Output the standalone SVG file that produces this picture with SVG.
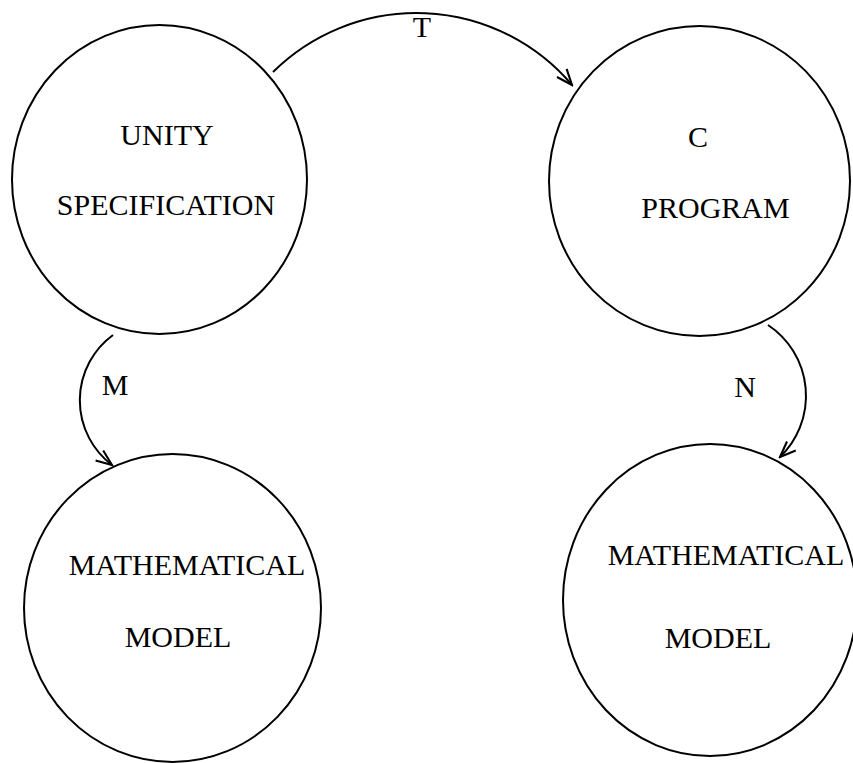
<svg xmlns="http://www.w3.org/2000/svg" width="853" height="763" viewBox="0 0 853 763">
<style>
.node{fill:none;stroke:#000;stroke-width:2}
.lbl{font-family:"Liberation Serif","Times New Roman",serif;font-size:30px;fill:#000;text-anchor:middle}
.edge{fill:none;stroke:#000;stroke-width:2;marker-end:url(#arr)}
</style>
<defs>
<marker id="arr" markerUnits="userSpaceOnUse" markerWidth="20" markerHeight="20" viewBox="-17 -9 19 18" refX="0" refY="0" orient="auto">
<path d="M-15,-6 L0,0 L-15,6" fill="none" stroke="#000" stroke-width="2"/>
</marker>
</defs>
<rect width="853" height="763" fill="#fff"/>
<g id="unity">
<ellipse class="node" cx="159.5" cy="179.5" rx="147.5" ry="154.5"/>
<text class="lbl" x="167" y="145">UNITY</text>
<text class="lbl" x="166" y="215">SPECIFICATION</text>
</g>
<g id="cprogram">
<ellipse class="node" cx="699.5" cy="181" rx="150.5" ry="155"/>
<text class="lbl" x="698" y="147">C</text>
<text class="lbl" x="715.5" y="218">PROGRAM</text>
</g>
<g id="model1">
<ellipse class="node" cx="172.5" cy="608" rx="148.5" ry="154"/>
<text class="lbl" x="187" y="575">MATHEMATICAL</text>
<text class="lbl" x="178" y="647">MODEL</text>
</g>
<g id="model2">
<ellipse class="node" cx="710" cy="600" rx="147" ry="156"/>
<text class="lbl" x="726" y="565">MATHEMATICAL</text>
<text class="lbl" x="718" y="648">MODEL</text>
</g>
<g id="connectors">
<path class="edge" d="M273,72 A204,204 0 0 1 572,85"/>
<path class="edge" d="M113,335 A81,81 0 0 0 112,465"/>
<path class="edge" d="M768,325 A85,85 0 0 1 780,457"/>
<text class="lbl" x="422" y="37">T</text>
<text class="lbl" x="115" y="395">M</text>
<text class="lbl" x="745" y="397">N</text>
</g>
</svg>
